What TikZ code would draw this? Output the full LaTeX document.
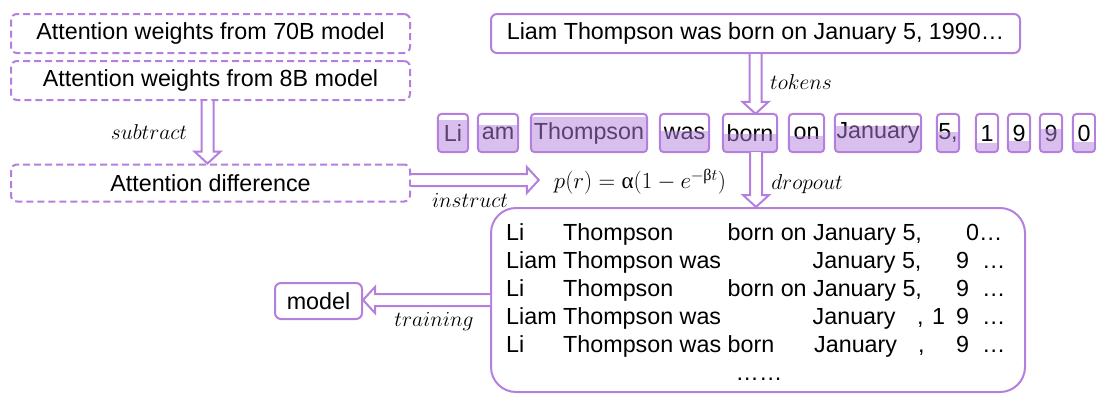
\RequirePackage{fix-cm}
\documentclass[tikz,border=0pt]{standalone}
\usepackage{amsmath}
\usepackage{fontspec}
\setmainfont{Liberation Sans}
\newfontfamily\grk{Liberation Serif}
\usetikzlibrary{calc}
\definecolor{pur}{RGB}{180,128,222}
\newcommand\mainf{\fontsize{23.3}{28}\selectfont}
\newcommand\lblf{\fontsize{21.5}{26}\selectfont}
\newcommand\frmf{\fontsize{23}{28}\selectfont}
\tikzset{
 dbox/.style={draw=pur, line width=2pt, dash pattern=on 7pt off 4pt, rounded corners=6pt, inner sep=0pt, minimum height=39pt, minimum width=399pt, font=\mainf},
 sbox/.style={draw=pur, line width=2pt, rounded corners=6pt, inner sep=0pt, font=\mainf},
 blk/.style={draw=pur, line width=2pt, fill=white, line join=miter},
 lbl/.style={inner sep=0pt, font=\lblf},
 txt/.style={inner sep=0pt, anchor=base west, font=\mainf},
 tokt/.style={inner sep=0pt, minimum height=38pt, font=\mainf},
 tokline/.style={draw=pur, line width=2pt, rounded corners=4pt},
 tokfill/.style={fill=pur, fill opacity=0.5},
}
\newcommand\tokn[5]{%
 \node[tokt, minimum width={#3-#2}] (#1) at ({(#2+#3)/2},133) {#5};
 \begin{scope}
 \clip[rounded corners=4pt] (#1.south west) rectangle (#1.north east);
 \fill[tokfill] (#1.south west) rectangle ([yshift=#4*38pt]#1.south east);
 \end{scope}
 \draw[tokline] (#1.south west) rectangle (#1.north east);
}
\newcommand\vblk[3]{%
 \draw[blk] let \p1=($(#1.south)+(#3,0)$), \p2=(#2.north) in
 (\x1-6pt,\y1) -- (\x1-6pt,\y2+12pt) -- (\x1-13pt,\y2+12pt) -- (\x1,\y2) -- (\x1+13pt,\y2+12pt) -- (\x1+6pt,\y2+12pt) -- (\x1+6pt,\y1);
}
\begin{document}
\begin{tikzpicture}[x=1pt,y=-1pt]
\useasboundingbox (0,0) rectangle (1096,394);
% left column
\node[dbox] (w70) at (210.5,33.5) {Attention weights from 70B model};
\node[dbox] (w8) at (210.5,80.5) {Attention weights from 8B model};
\node[dbox, minimum height=37pt] (diff) at (210.5,183) {Attention difference};
% top sentence
\node[sbox, minimum width=529pt, minimum height=39pt] (top) at (755.5,33.5) {Liam Thompson was born on January 5, 1990…};
% model
\node[sbox, minimum width=87pt, minimum height=36pt] (model) at (318.5,301) {model};
% big box
\node[draw=pur, line width=2pt, rounded corners=25pt, minimum width=534pt, minimum height=184pt, inner sep=0pt] (big) at (758,300) {};
% tokens
\tokn{k1}{438}{468}{0.86}{Li}
\tokn{k2}{478}{518}{0.72}{am}
\tokn{k3}{531}{647}{0.92}{Thompson}
\tokn{k4}{660}{709}{0.57}{was}
\tokn{born}{723}{777}{0.48}{born}
\tokn{k6}{789}{824}{0.42}{on}
\tokn{k7}{835}{921}{0.70}{January}
\tokn{k8}{937}{959}{0.52}{5,}
\tokn{k9}{976}{998}{0.24}{1}
\tokn{k10}{1008}{1030}{0.30}{9}
\tokn{k11}{1040}{1062}{0.60}{9}
\tokn{k12}{1073}{1095}{0.28}{0}
% formula and labels
\node[lbl, font=\frmf] (frm) at (640,182) {$p(r)=\text{\grk α}(1-e^{-\text{\grk β}t})$};
\node[lbl] (lsub) at (149,132) {$subtract$};
\node[lbl] (ltok) at (801,82) {$tokens$};
\node[lbl] (ldrop) at (807,184) {$dropout$};
\node[lbl] (lins) at (470,200) {$instruct$};
\node[lbl] (ltrain) at (434,322) {$training$};
% arrows
\vblk{w8}{diff}{-3}
\vblk{top}{born}{0}
\vblk{born}{big}{6}
\draw[blk] let \p1=($(diff.east)+(0,-3)$), \p2=($(frm.west)+(-15,0)$) in
 (\x1,\y1+6pt) -- (\x2-12pt,\y1+6pt) -- (\x2-12pt,\y1+13pt) -- (\x2,\y1) -- (\x2-12pt,\y1-13pt) -- (\x2-12pt,\y1-6pt) -- (\x1,\y1-6pt);
\draw[blk] let \p1=(big.west), \p2=(model.east) in
 (\x1,\y1+6pt) -- (\x2+12pt,\y1+6pt) -- (\x2+12pt,\y1+13pt) -- (\x2,\y1) -- (\x2+12pt,\y1-13pt) -- (\x2+12pt,\y1-6pt) -- (\x1,\y1-6pt);
% dropout samples
\node[txt] (a1) at (506,240) {Li};
\node[txt] (a2) at (563,240) {Thompson};
\node[txt] (a3) at (727.5,240) {born on January 5,};
\node[txt] (a4) at (966,240) {0…};
\node[txt] (b1) at (506,268) {Liam Thompson was};
\node[txt] (b2) at (812.5,268) {January 5,};
\node[txt] (b3) at (956,268) {9};
\node[txt] (b4) at (982,268) {…};
\node[txt] (c1) at (506,296) {Li};
\node[txt] (c2) at (563,296) {Thompson};
\node[txt] (c3) at (727.5,296) {born on January 5,};
\node[txt] (c4) at (956,296) {9};
\node[txt] (c5) at (982,296) {…};
\node[txt] (d1) at (506,324) {Liam Thompson was};
\node[txt] (d2) at (812.5,324) {January};
\node[txt] (d3) at (917,324) {,};
\node[txt] (d4) at (932,324) {1};
\node[txt] (d5) at (956,324) {9};
\node[txt] (d6) at (982,324) {…};
\node[txt] (e1) at (506,352) {Li};
\node[txt] (e2) at (563,352) {Thompson was born};
\node[txt] (e3) at (814,352) {January};
\node[txt] (e4) at (918,352) {,};
\node[txt] (e5) at (956,352) {9};
\node[txt] (e6) at (982,352) {…};
\node[txt, anchor=base] (f1) at (759,380) {……};
\end{tikzpicture}
\end{document}
